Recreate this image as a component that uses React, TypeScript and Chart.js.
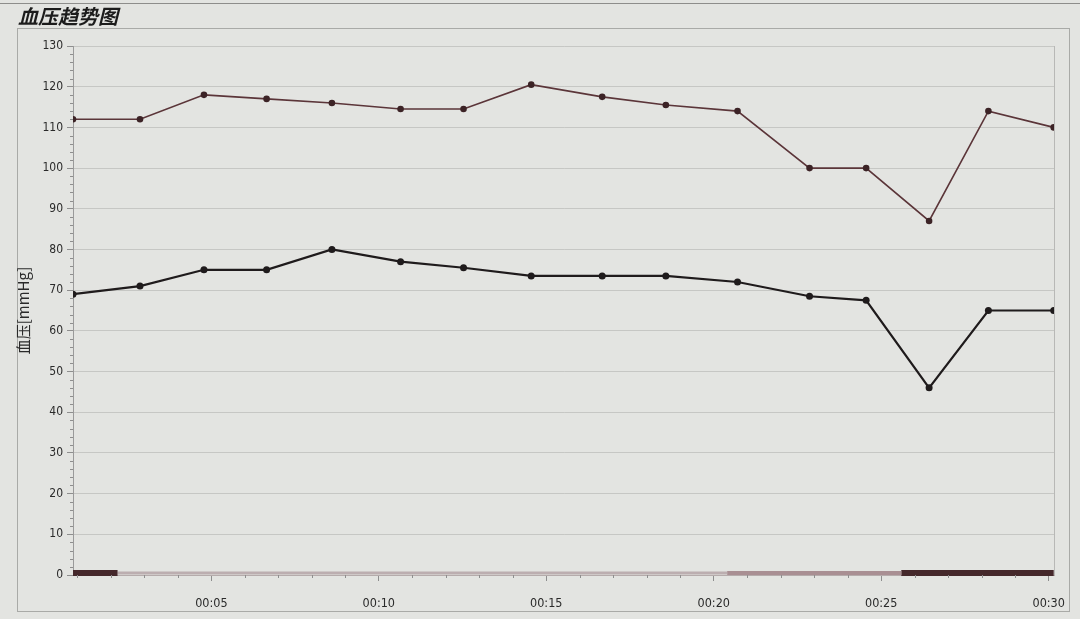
import { useEffect, useRef } from "react";
import { Chart, registerables } from "chart.js";

Chart.register(...registerables);

const timesMin = [0.87, 2.87, 4.78, 6.65, 8.6, 10.65, 12.53, 14.55, 16.67, 18.57, 20.71, 22.86, 24.55, 26.43, 28.2, 30.15];
const systolic = [112, 112, 118, 117, 116, 114.5, 114.5, 120.5, 117.5, 115.5, 114, 100, 100, 87, 114, 110];
const diastolic = [69, 71, 75, 75, 80, 77, 75.5, 73.5, 73.5, 73.5, 72, 68.5, 67.5, 46, 65, 65];
const xTickMinutes = [5, 10, 15, 20, 25, 30];
const xMin = 0.87;
const xMax = 30.17;
const yMin = 0;
const yMax = 130;
// status band along the 0 line
const statusStart = [0.87, 2.2, 20.4, 25.6];
const statusEnd = [2.2, 20.4, 25.6, 30.15];
const statusLevel = [2, 0, 1, 2];

const chartTitle = "血压趋势图";
const yAxisTitle = "血压[mmHg]";

const levelColor = ["#bcaeb0", "#a98f93", "#45282b"];
const levelWidth = [3, 4, 6];

const fmtTime = (v: number) => "00:" + String(Math.round(v)).padStart(2, "0");

export default function App() {
  const ref = useRef<HTMLCanvasElement | null>(null);

  useEffect(() => {
    document.body.style.margin = "0";
    const canvas = ref.current;
    if (!canvas) return;

    const bandDatasets = statusStart.map((s, i) => ({
      type: "line" as const,
      label: "status" + i,
      data: [
        { x: s, y: 0.5 },
        { x: statusEnd[i], y: 0.5 },
      ],
      borderColor: levelColor[statusLevel[i]],
      borderWidth: levelWidth[statusLevel[i]],
      pointRadius: 0,
      borderCapStyle: "butt" as const,
      clip: false,
      order: 5,
    }));

    const framePlugin = {
      id: "frame",
      beforeDraw(chart: any) {
        const { ctx, width } = chart;
        ctx.save();
        ctx.fillStyle = "#e3e4e1";
        ctx.fillRect(0, 0, width, chart.height);
        ctx.strokeStyle = "#8d8d8b";
        ctx.lineWidth = 1;
        ctx.beginPath();
        ctx.moveTo(0, 3.5);
        ctx.lineTo(width, 3.5);
        ctx.stroke();
        ctx.strokeStyle = "#a9aaa7";
        ctx.strokeRect(17.5, 28.5, 1052, 583);
        ctx.fillStyle = "#1c1c1c";
        ctx.font = "italic bold 20px 'Noto Sans CJK SC'";
        ctx.textBaseline = "middle";
        ctx.fillText(chartTitle, 18, 16);
        ctx.restore();
      },
      afterDraw(chart: any) {
        const { ctx, chartArea } = chart;
        const xs = chart.scales.x;
        const ys = chart.scales.y;
        ctx.save();
        ctx.strokeStyle = "#8e8e8e";
        ctx.lineWidth = 1;
        ctx.beginPath();
        for (let v = yMin; v <= yMax; v += 2) {
          if (v % 10 === 0) continue;
          const py = Math.round(ys.getPixelForValue(v)) + 0.5;
          ctx.moveTo(chartArea.left - 3, py);
          ctx.lineTo(chartArea.left, py);
        }
        for (let m = Math.ceil(xMin); m <= xMax; m += 1) {
          if (m % 5 === 0) continue;
          const px = Math.round(xs.getPixelForValue(m)) + 0.5;
          ctx.moveTo(px, chartArea.bottom);
          ctx.lineTo(px, chartArea.bottom + 3);
        }
        ctx.stroke();
        ctx.strokeStyle = "#b8b8b6";
        ctx.beginPath();
        ctx.moveTo(Math.round(chartArea.right) + 0.5, chartArea.top);
        ctx.lineTo(Math.round(chartArea.right) + 0.5, chartArea.bottom);
        ctx.stroke();
        ctx.restore();
      },
    };

    const chart = new Chart(canvas, {
      type: "line",
      data: {
        datasets: [
          {
            label: "收缩压",
            data: timesMin.map((t, i) => ({ x: t, y: systolic[i] })),
            borderColor: "#5b3539",
            backgroundColor: "#3c2326",
            borderWidth: 1.6,
            pointRadius: 3.3,
            pointBorderWidth: 0,
            pointBackgroundColor: "#3c2326",
            tension: 0,
            order: 1,
          },
          {
            label: "舒张压",
            data: timesMin.map((t, i) => ({ x: t, y: diastolic[i] })),
            borderColor: "#1f1b1c",
            backgroundColor: "#1f1b1c",
            borderWidth: 2.2,
            pointRadius: 3.5,
            pointBorderWidth: 0,
            pointBackgroundColor: "#1f1b1c",
            tension: 0,
            order: 1,
          },
          ...bandDatasets,
        ] as any,
      },
      options: {
        animation: false,
        responsive: false,
        maintainAspectRatio: false,
        layout: { padding: { left: 14, top: 46, right: 21, bottom: 0 } },
        plugins: {
          legend: { display: false },
          tooltip: { enabled: false },
          title: { display: false },
        },
        scales: {
          x: {
            type: "linear",
            min: xMin,
            max: xMax,
            afterBuildTicks: (s: any) => {
              s.ticks = xTickMinutes.map((v) => ({ value: v }));
            },
            afterFit: (s: any) => {
              s.height = 44;
            },
            ticks: {
              callback: (v: any) => fmtTime(Number(v)),
              color: "#2a2a2a",
              font: { family: "'DejaVu Sans Condensed', 'DejaVu Sans'", size: 12.5 },
              padding: 15,
              maxRotation: 0,
            },
            grid: { drawOnChartArea: false, drawTicks: true, tickLength: 6, color: "#8e8e8e" },
            border: { display: true, color: "#b5abab" },
          },
          y: {
            min: yMin,
            max: yMax,
            afterFit: (s: any) => {
              s.width = 59;
            },
            ticks: {
              stepSize: 10,
              color: "#2a2a2a",
              font: { family: "'DejaVu Sans Condensed', 'DejaVu Sans'", size: 12 },
              padding: 4,
            },
            grid: { color: "#c6c7c4", lineWidth: 1, tickLength: 6, tickColor: "#8e8e8e" },
            border: { display: true, color: "#9a9a9a" },
            title: {
              display: true,
              text: yAxisTitle,
              color: "#2a2a2a",
              font: { family: "'Noto Sans CJK SC', 'DejaVu Sans'", size: 15 },
              padding: { top: 0, bottom: 0 },
            },
          },
        },
      },
      plugins: [framePlugin],
    });

    return () => chart.destroy();
  }, []);

  return (
    <div style={{ position: "fixed", left: 0, top: 0, width: 1080, height: 619 }}>
      <canvas ref={ref} width={1080} height={619} style={{ width: 1080, height: 619, display: "block" }} />
    </div>
  );
}
